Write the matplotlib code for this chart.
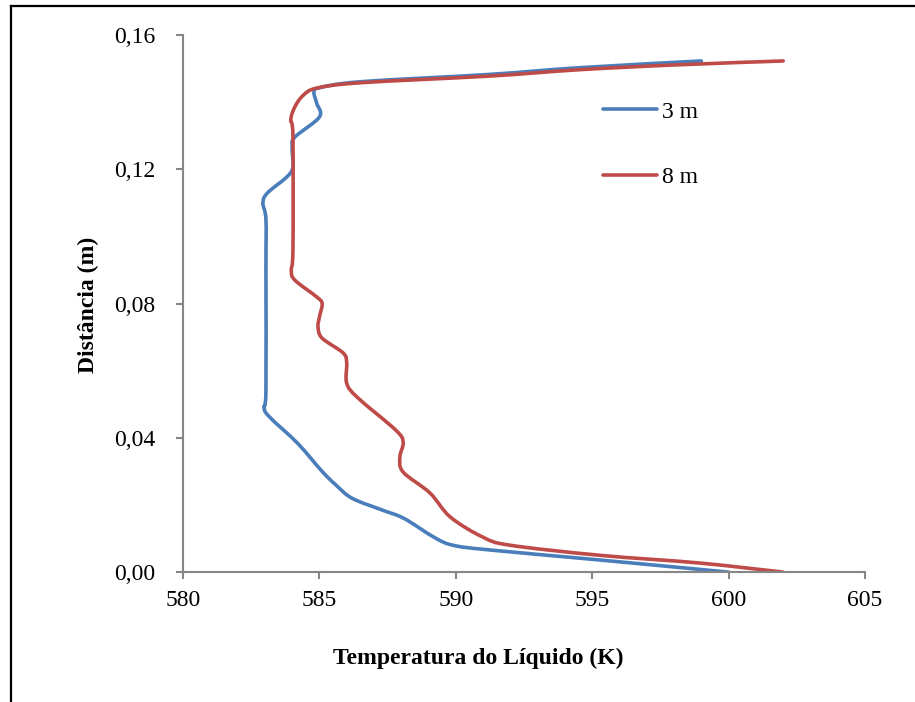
import matplotlib
matplotlib.use("Agg")
import numpy as np
from matplotlib import pyplot as plt
from matplotlib.path import Path
from matplotlib.patches import PathPatch
from matplotlib.lines import Line2D

# liquid temperature (K) against distance (m), two axial positions
temp_3m = [600.0, 595.3, 591.25, 589.9, 589.2, 588.1, 587.3, 586.2, 585.6, 585.1,
           584.2, 583.2, 582.97, 583.04, 583.04, 583.04, 582.93, 583.1, 583.8,
           584.03, 584.0, 584.1, 585.0, 584.9, 584.8, 585.0, 586.5, 591.25,
           594.55, 599.0]
dist_3m = [0.0, 0.0036, 0.0066, 0.008, 0.0104, 0.016, 0.0185, 0.022, 0.026, 0.030,
           0.0384, 0.046, 0.049, 0.054, 0.090, 0.105, 0.110, 0.113, 0.1177,
           0.1207, 0.1266, 0.1296, 0.1356, 0.1397, 0.143, 0.1443, 0.1461, 0.1483,
           0.1503, 0.1523]

temp_8m = [602.0, 598.95, 595.3, 592.0, 591.0, 589.8, 589.05, 588.07, 587.95,
           588.07, 587.8, 586.4, 586.0, 586.0, 585.87, 585.1, 584.95, 585.0,
           585.1, 584.9, 584.1, 583.97, 584.03, 584.03, 583.95, 584.1, 584.4,
           584.9, 586.5, 591.25, 594.55, 598.0, 602.0]
dist_8m = [0.0, 0.0027, 0.005, 0.008, 0.0104, 0.0164, 0.0236, 0.0298, 0.0343,
           0.0387, 0.0423, 0.052, 0.0563, 0.0623, 0.0653, 0.0697, 0.073, 0.076,
           0.080, 0.082, 0.087, 0.090, 0.096, 0.1296, 0.1347, 0.1386, 0.142,
           0.1442, 0.1458, 0.1478, 0.1497, 0.1511, 0.1523]

series = [("3 m", temp_3m, dist_3m, "#4A7EBB"),
          ("8 m", temp_8m, dist_8m, "#BE4B48")]

x_ticks = [580, 585, 590, 595, 600, 605]
y_ticks = [0.0, 0.04, 0.08, 0.12, 0.16]

plt.rcParams["font.family"] = ["Liberation Serif", "DejaVu Serif"]
FS = 17
LW = 2.6


def smooth_path(xs, ys):
    # Catmull-Rom through the points, written as cubic Bezier segments
    pts = np.column_stack([xs, ys])
    ext = np.vstack([pts[0], pts, pts[-1]])
    verts = [pts[0]]
    codes = [Path.MOVETO]
    for i in range(1, len(ext) - 2):
        p0, p1, p2, p3 = ext[i - 1], ext[i], ext[i + 1], ext[i + 2]
        verts += [p1 + (p2 - p0) / 6.0, p2 - (p3 - p1) / 6.0, p2]
        codes += [Path.CURVE4] * 3
    return Path(verts, codes)


fig = plt.figure(figsize=(9.15, 7.02), dpi=100)
ax = fig.add_axes([0.2, 0.185, 0.7454, 0.765])

handles = []
for name, xs, ys, colour in series:
    patch = PathPatch(smooth_path(xs, ys), fill=False, edgecolor=colour,
                      lw=LW, capstyle="round", joinstyle="round")
    ax.add_patch(patch)
    handles.append(Line2D([], [], color=colour, lw=LW,
                          solid_capstyle="round", label=name))

ax.set_xlim(580, 605)
ax.set_ylim(0, 0.16)
ax.set_xticks(x_ticks)
ax.set_yticks(y_ticks)
ax.set_xticklabels([str(t) for t in x_ticks])
ax.set_yticklabels([f"{t:.2f}".replace(".", ",") for t in y_ticks])

for side in ("top", "right"):
    ax.spines[side].set_visible(False)
for side in ("left", "bottom"):
    ax.spines[side].set_color("#868686")
    ax.spines[side].set_linewidth(1.5)
ax.tick_params(axis="both", direction="out", color="#868686", width=1.5,
               length=5, labelsize=FS)
ax.tick_params(axis="x", pad=8)
ax.tick_params(axis="y", pad=15)

leg = ax.legend(handles=handles, loc="upper left",
                bbox_to_anchor=(0.6158, 0.877), frameon=False, fontsize=FS,
                handlelength=2.29, handletextpad=0.21, labelspacing=1.85,
                borderpad=0, borderaxespad=0)

fig.text(478 / 915, 1 - 658 / 702, "Temperatura do Líquido (K)",
         ha="center", va="center", fontsize=FS, fontweight="bold")
fig.text(88 / 915, 1 - 305 / 702, "Distância (m)", rotation=90,
         ha="center", va="center", fontsize=FS, fontweight="bold")

# outer chart frame (top and left edges)
fx = 10.5 / 915
fy = 1 - 5.5 / 702
fig.add_artist(Line2D([fx, 1.0], [fy, fy], color="black", lw=1.6,
                      transform=fig.transFigure))
fig.add_artist(Line2D([fx, fx], [0.0, fy], color="black", lw=1.6,
                      transform=fig.transFigure))

fig.savefig("out.png", dpi=100)
